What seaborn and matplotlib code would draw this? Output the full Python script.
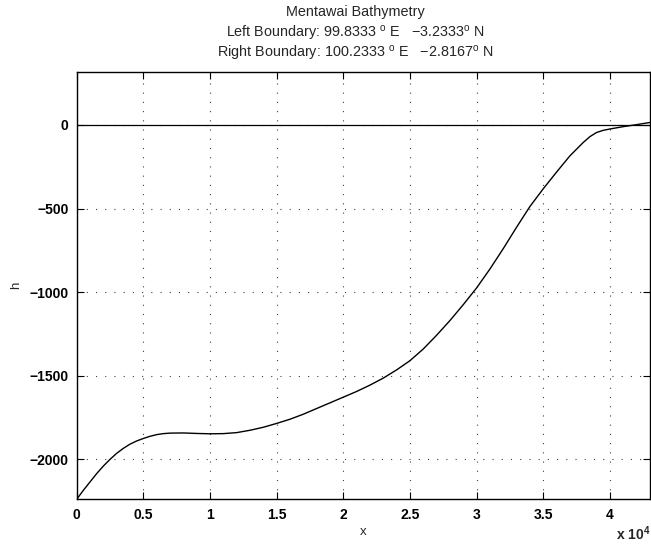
import numpy as np
import pandas as pd
import matplotlib
matplotlib.use("Agg")
import matplotlib.pyplot as plt
import seaborn as sns

# distance along transect (units of 1e4 m) and depth h (m)
x_km4 = [0.0, 0.05, 0.1, 0.15, 0.2, 0.25, 0.3, 0.35, 0.4, 0.45, 0.5, 0.55, 0.6,
         0.65, 0.7, 0.8, 0.9, 1.0, 1.1, 1.2, 1.3, 1.4, 1.5, 1.6, 1.7, 1.8, 1.9,
         2.0, 2.1, 2.2, 2.3, 2.4, 2.5, 2.6, 2.7, 2.8, 2.9, 3.0, 3.1, 3.2, 3.3,
         3.4, 3.5, 3.6, 3.7, 3.8, 3.85, 3.9, 3.95, 4.0, 4.1, 4.2, 4.3]
h_vals = [-2239, -2185, -2135, -2085, -2040, -2000, -1964, -1934, -1909, -1890,
          -1875, -1862, -1852, -1846, -1843, -1842, -1845, -1847, -1846, -1840,
          -1826, -1808, -1785, -1760, -1730, -1696, -1662, -1628, -1594, -1556,
          -1514, -1465, -1410, -1340, -1258, -1170, -1075, -975, -862, -740,
          -612, -488, -382, -282, -185, -105, -70, -45, -32, -24, -10, 2, 15]
x_vals = [v * 1e4 for v in x_km4]

xtick_vals = [0, 0.5, 1, 1.5, 2, 2.5, 3, 3.5, 4]
xtick_labels = ["0", "0.5", "1", "1.5", "2", "2.5", "3", "3.5", "4"]
ytick_vals = [-2000, -1500, -1000, -500, 0]

title_lines = ["Mentawai Bathymetry",
               r"Left Boundary: 99.8333 $^{\mathrm{o}}$ E   $-$3.2333$^{\mathrm{o}}$ N",
               r"Right Boundary: 100.2333 $^{\mathrm{o}}$ E   $-$2.8167$^{\mathrm{o}}$ N"]

sns.set_style("white")
plt.rcParams['font.family'] = ['Liberation Sans', 'DejaVu Sans']
plt.rcParams['mathtext.fontset'] = 'custom'
plt.rcParams['mathtext.rm'] = 'Liberation Sans'
plt.rcParams['mathtext.it'] = 'Liberation Sans:italic'
plt.rcParams['mathtext.bf'] = 'Liberation Sans:bold'

df = pd.DataFrame({"x": x_vals, "h": h_vals})

fig = plt.figure(figsize=(6.51, 5.45), dpi=100)
ax = fig.add_axes([0.1178, 0.0838, 0.8814, 0.7841])

ax.axhline(0, color="black", lw=0.9, zorder=2)
sns.lineplot(data=df, x="x", y="h", ax=ax, color="black", lw=1.0,
             sort=False, estimator=None, zorder=3)

ax.set_xlim(0, 4.305e4)
ax.set_ylim(-2239, 317)
ax.set_xticks([v * 1e4 for v in xtick_vals])
ax.set_xticklabels(xtick_labels, fontweight="bold", fontsize=10)
ax.set_yticks(ytick_vals)
ax.set_yticklabels([str(v).replace("-", "\u2212") for v in ytick_vals],
                   fontweight="bold", fontsize=10)

ax.grid(True, color="0.25", linestyle=(0, (1, 7.3)), lw=0.8)
ax.tick_params(direction="in", length=5, width=0.8, top=True, right=True,
               bottom=True, left=True, pad=6, colors="black")
for s in ax.spines.values():
    s.set_color("black")
    s.set_linewidth(1.0)

ax.set_xlabel("x", fontsize=9.5, labelpad=3)
ax.set_ylabel("h", fontsize=9.5, va="center")
ax.yaxis.set_label_coords(-0.105, 0.5)

fig.text(0.999, 0.003, r"x 10$^{\mathbf{4}}$", ha="right", va="bottom",
         fontsize=10, fontweight="bold")

ys = [12, 33, 53]
for t, y in zip(title_lines, ys):
    fig.text(355 / 651, 1 - y / 545, t, ha="center", va="center", fontsize=10.4)

fig.savefig("out.png", dpi=100, facecolor="white")
